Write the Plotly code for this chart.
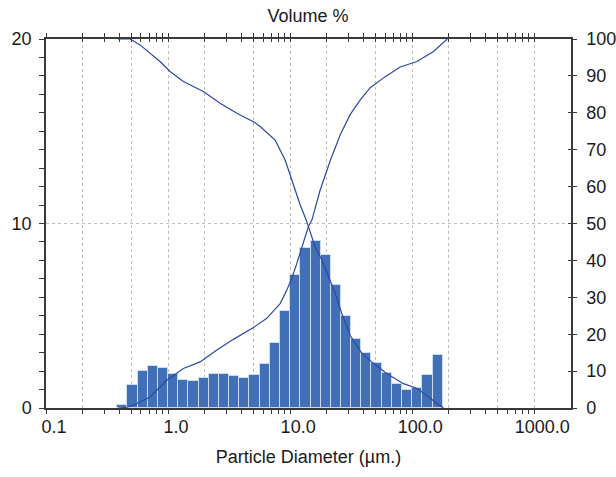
import numpy as np
import plotly.graph_objects as go

# ---------------- data ----------------
# histogram bin edges (µm), 12 bins per decade
bin_edges = [0.383, 0.464, 0.562, 0.681, 0.825, 1.00, 1.21, 1.47, 1.78, 2.15, 2.61,
             3.16, 3.83, 4.64, 5.62, 6.81, 8.25, 10.0, 12.1, 14.7, 17.8, 21.5,
             26.1, 31.6, 38.3, 46.4, 56.2, 68.1, 82.5, 100.0, 121.0, 147.0, 178.0]
volume_pct = [0.15, 1.23, 1.99, 2.28, 2.17, 1.85, 1.54, 1.49, 1.65, 1.87, 1.87,
              1.76, 1.65, 1.81, 2.41, 3.53, 5.27, 7.19, 8.69, 9.07, 8.27, 6.64,
              4.98, 3.75, 2.99, 2.44, 1.90, 1.32, 0.96, 1.11, 1.79, 2.86]

# cumulative undersize (rising curve)
under_d = [0.389, 0.46, 0.52, 0.711, 0.975, 1.335, 1.829, 2.51, 3.43, 5.0, 6.44,
           8.28, 9.4, 10.3, 11.35, 12.86, 14.1, 15.1, 17.6, 21.3, 25.7, 31.0,
           37.5, 45.3, 60.1, 79.8, 109.4, 149.6, 169.8, 193.6]
under_v = [0.0, 0.2, 0.8, 3.0, 7.5, 10.7, 12.5, 15.7, 18.6, 21.8, 24.3,
           28.3, 32.0, 35.1, 39.2, 45.1, 49.1, 51.0, 59.0, 67.0, 74.0, 79.5,
           83.5, 86.8, 89.8, 92.4, 93.9, 96.6, 98.4, 100.0]

# cumulative oversize (falling curve)
over_d = [0.389, 0.489, 0.589, 0.711, 0.859, 1.038, 1.335, 1.946, 2.67, 3.66,
          5.0, 5.68, 7.54, 9.1, 10.6, 12.1, 13.7, 16.0, 18.2, 20.6, 23.4, 26.5,
          31.0, 38.7, 48.2, 62.1, 84.9, 109.4, 131.9, 159.3, 180.6]
over_v = [100.0, 100.0, 98.4, 96.2, 93.9, 91.2, 88.5, 85.8, 82.6, 79.9,
          77.6, 76.3, 72.6, 67.2, 60.5, 55.0, 50.5, 43.7, 40.1, 35.6, 31.1, 25.6,
          19.7, 14.8, 12.1, 9.3, 6.6, 5.3, 3.4, 1.2, 0.0]

x_major = [0.1, 1, 10, 100, 1000]
x_major_text = ["0.1", "1.0", "10.0", "100.0", "1000.0"]
x_grid = [0.2, 0.5, 2, 5, 20, 50, 200, 500]
x_minor = [m * d for d in [0.1, 1, 10, 100, 1000] for m in [3, 4, 6, 7, 8, 9]]

# ---------------- figure ----------------
FONT = "Liberation Sans, Arial, sans-serif"
TXT = "#1a1a1a"
AX = "#3a3a3a"
GRID = "#bdbdbd"
BAR = "#4170b6"
LINE = "#2f47a6"

left = bin_edges[:-1]
widths = [bin_edges[i + 1] - bin_edges[i] for i in range(len(bin_edges) - 1)]

xt_vals = x_major + x_grid
xt_text = x_major_text + [""] * len(x_grid)

fig = go.Figure()
fig.add_trace(go.Bar(
    x=left, y=volume_pct, width=widths, offset=0,
    xaxis="x", yaxis="y",
    marker=dict(color=BAR, line=dict(color="rgba(205,220,242,0.95)", width=1)),
    showlegend=False, hoverinfo="skip"))
fig.add_trace(go.Scatter(
    x=under_d, y=under_v, xaxis="x", yaxis="y2", mode="lines",
    line=dict(color=LINE, width=1.2), showlegend=False))
fig.add_trace(go.Scatter(
    x=over_d, y=over_v, xaxis="x", yaxis="y2", mode="lines",
    line=dict(color=LINE, width=1.2), showlegend=False))
# empty traces to anchor the tick-only helper axes
fig.add_trace(go.Scatter(x=[], y=[], xaxis="x3", yaxis="y", showlegend=False))
fig.add_trace(go.Scatter(x=[], y=[], xaxis="x", yaxis="y3", showlegend=False))

xrange = [-1, np.log10(2000)]

fig.update_layout(
    width=616, height=477,
    margin=dict(l=46, r=45, t=39, b=69, autoexpand=False),
    paper_bgcolor="white", plot_bgcolor="white",
    font=dict(family=FONT, size=18, color=TXT),
    title=dict(text="Volume %", x=0.5, xanchor="center", y=0.968, yanchor="middle",
               font=dict(family=FONT, size=18, color=TXT)),
    bargap=0,
    xaxis=dict(
        type="log", range=xrange, automargin=False,
        tickmode="array", tickvals=xt_vals, ticktext=xt_text,
        ticks="outside", ticklen=4, tickcolor=AX, tickwidth=1,
        ticklabelshift=8, ticklabelstandoff=-2,
        showgrid=True, gridcolor=GRID, griddash="dot", gridwidth=1,
        minor=dict(tickvals=x_minor, ticks="outside", ticklen=4, tickcolor=AX,
                   showgrid=False),
        showline=True, linecolor=AX, linewidth=1.5, mirror="allticks",
        zeroline=False,
        title=dict(text="Particle Diameter (µm.)", standoff=14,
                   font=dict(family=FONT, size=18, color=TXT)),
        tickfont=dict(family=FONT, size=18, color=TXT),
    ),
    xaxis3=dict(
        type="log", range=xrange, overlaying="x", side="top", anchor="y",
        automargin=False,
        tickmode="array", tickvals=xt_vals, ticks="inside", ticklen=3,
        tickcolor=AX, showticklabels=False, showgrid=False, showline=False,
        minor=dict(tickvals=x_minor, ticks="inside", ticklen=3, tickcolor=AX,
                   showgrid=False),
    ),
    yaxis=dict(
        range=[0, 20], tickmode="array", tickvals=[0, 10, 20], automargin=False,
        ticks="outside", ticklen=5, tickcolor=AX,
        minor=dict(dtick=1, ticks="outside", ticklen=5, tickcolor=AX, showgrid=False),
        showgrid=True, gridcolor=GRID, griddash="dot", gridwidth=1,
        showline=True, linecolor=AX, linewidth=1.5,
        zeroline=False, ticklabelstandoff=4,
        tickfont=dict(family=FONT, size=18, color=TXT),
    ),
    yaxis2=dict(
        range=[0, 100], overlaying="y", side="right", anchor="x", automargin=False,
        tickmode="linear", tick0=0, dtick=10,
        ticks="outside", ticklen=4, tickcolor=AX,
        showgrid=False, showline=True, linecolor=AX, linewidth=1.5,
        zeroline=False, ticklabelstandoff=6,
        tickfont=dict(family=FONT, size=18, color=TXT),
    ),
    yaxis3=dict(
        range=[0, 100], overlaying="y", side="right", anchor="x", automargin=False,
        tickmode="linear", tick0=0, dtick=10,
        ticks="inside", ticklen=3, tickcolor=AX,
        showticklabels=False, showgrid=False, showline=False, zeroline=False,
    ),
)

fig.write_html("out.html",
               config={"displayModeBar": False},
               post_script="document.body.style.margin='0';"
                           "document.body.style.overflow='hidden';")
